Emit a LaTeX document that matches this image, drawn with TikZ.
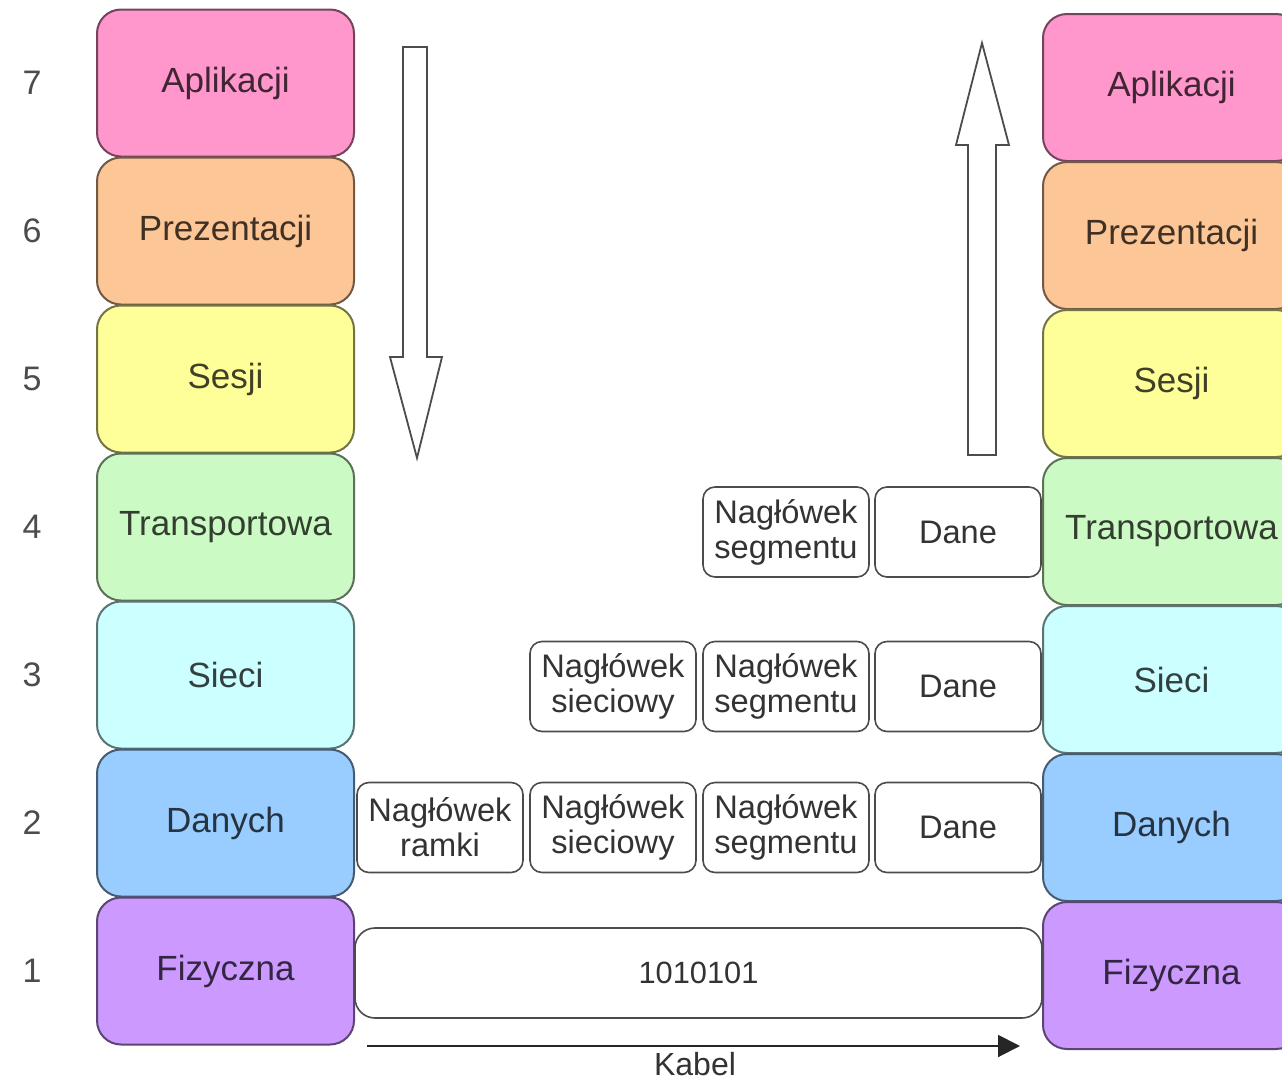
\documentclass[tikz,border=0pt]{standalone}
\usepackage{fontspec}
\setmainfont{Liberation Sans}
\usetikzlibrary{arrows.meta}

\definecolor{aplikacja}{RGB}{255,150,204}
\definecolor{prezentacja}{RGB}{252,198,150}
\definecolor{sesja}{RGB}{255,255,153}
\definecolor{transport}{RGB}{204,250,196}
\definecolor{siec}{RGB}{204,255,255}
\definecolor{lacze}{RGB}{153,204,255}
\definecolor{fizyczna}{RGB}{204,153,255}

\begin{document}
\begin{tikzpicture}
        [x = 0.5pt, y = -0.5pt, >= {Triangle[length = 11pt, width = 11pt]},
         layer/.style = {draw = #1!45!black, fill = #1, text = #1!25!black,
                         line width = 1pt, rounded corners = 12pt,
                         minimum width = 128.5pt, minimum height = 73.5pt, inner sep = 0pt,
                         font = \fontsize{17.5}{20}\selectfont},
         num/.style = {text = black!70, font = \fontsize{17}{20}\selectfont},
         pdu/.style = {draw = black!70, fill = white, text = black!80, line width = 0.8pt,
                       rounded corners = 6pt, minimum width = 83pt, minimum height = 45pt,
                       inner sep = 0pt, align = center,
                       font = \fontsize{16.3}{17.5}\selectfont},
         hollow/.style = {draw = black!70, fill = white, line width = 0.9pt}]
        \clip (0,0) rectangle (1282,1083);
        \fill[white] (0,0) rectangle (1282,1083);
        % stosy warstw po obu stronach
        \foreach \n/\name/\col [count = \i from 0] in
            {7/Aplikacji/aplikacja, 6/Prezentacji/prezentacja, 5/Sesji/sesja,
             4/Transportowa/transport, 3/Sieci/siec, 2/Danych/lacze, 1/Fizyczna/fizyczna}
        {
            \node[num] (N\n) at (32, {83 + 148*\i}) {\n};
            \node[layer = \col] (L\n) at (225.5, {83 + 148*\i}) {\name};
            \node[layer = \col] (R\n) at (1171.5, {87.5 + 148*\i}) {\name};
        }
        % strzalki w dol i w gore
        \draw[hollow] (403,47) -- (427,47) -- (427,357) -- (442,357) -- (417,458)
            -- (390,357) -- (403,357) -- cycle;
        \draw[hollow] (968,455) -- (996,455) -- (996,145) -- (1009,145) -- (982,43)
            -- (956,145) -- (968,145) -- cycle;
        % warstwa 4
        \node[pdu] (seg4) at (786,532) {Nagłówek\\segmentu};
        \node[pdu] (dane4) at (958,532) {Dane};
        % warstwa 3
        \node[pdu] (sie3) at (613,686.5) {Nagłówek\\sieciowy};
        \node[pdu] (seg3) at (786,686.5) {Nagłówek\\segmentu};
        \node[pdu] (dane3) at (958,686.5) {Dane};
        % warstwa 2
        \node[pdu] (ram2) at (440,827.5) {Nagłówek\\ramki};
        \node[pdu] (sie2) at (613,827.5) {Nagłówek\\sieciowy};
        \node[pdu] (seg2) at (786,827.5) {Nagłówek\\segmentu};
        \node[pdu] (dane2) at (958,827.5) {Dane};
        % warstwa 1
        \node[pdu, minimum width = 343.5pt, rounded corners = 10pt,
              font = \fontsize{15.4}{18}\selectfont] (bity) at (698.5,973) {1010101};
        \coordinate (kabA) at (367,1046);
        \coordinate (kabB) at (1020,1046);
        \draw[->, line width = 1pt, black!85] (kabA) -- (kabB);
        \node[text = black!80, font = \fontsize{16}{18}\selectfont, inner sep = 1pt] (kabel) at (695,1064) {Kabel};
      \end{tikzpicture}
\end{document}
